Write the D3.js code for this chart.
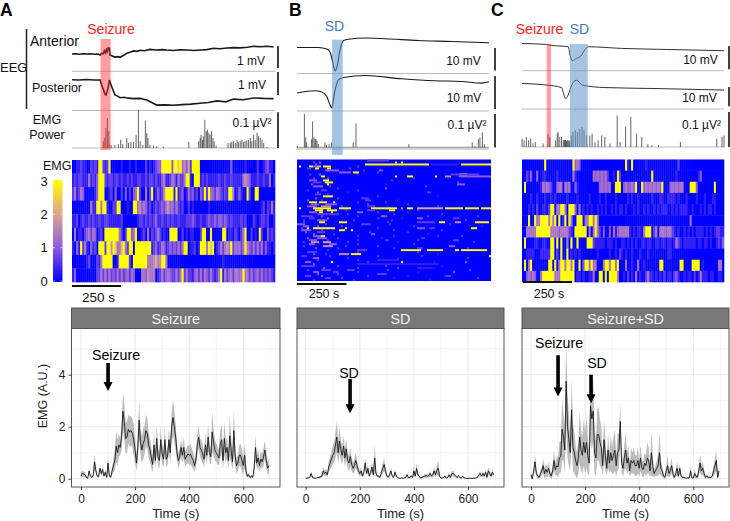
<!DOCTYPE html>
<html><head><meta charset="utf-8">
<script src="https://cdn.jsdelivr.net/npm/d3@7/dist/d3.min.js"></script>
<style>html,body{margin:0;background:#fff}svg{display:block;font-family:"Liberation Sans",Arial,sans-serif}</style>
</head><body><svg id="c" width="730" height="521"></svg>
<script>
// ---- EEG traces: time (s) and value (mV) ----
const antA_t=[0,12,25,38,51,64,77,90,97,102,108,112,116,119,122,125,129,131,137,148,157,166,178,189,200,212,224,235,250,269,290,310,327,350,372,396,420,442,465,488,510,535,557,580,605,626,650,672,695];
const antA_v=[0,.01,-.01,.01,0,.01,-.01,0,-.05,.03,.02,.15,.05,.2,.12,.28,.26,-.05,-.08,-.14,-.12,-.15,-.06,.03,.08,.14,.12,.17,.15,.21,.18,.2,.18,.16,.19,.18,.16,.18,.2,.26,.24,.27,.29,.28,.31,.35,.33,.35,.32];
const posA_t=[0,25,50,75,97,102,108,113,117,121,125,129,137,148,157,166,180,195,212,235,258,275,292,320,350,380,410,442,470,500,530,557,590,626,660,695];
const posA_v=[.01,0,.02,0,0,-.22,-.4,-.6,-.65,-.5,-.32,0,-.29,-.65,-.7,-.77,-.75,-.79,-.81,-.8,-.87,-.98,-1.09,-1.08,-1.1,-1.07,-1.05,-1.01,-.98,-.91,-.95,-.83,-.86,-.78,-.8,-.81];
const antB_t=[0,78,109,121,134,139,146,157,170,188,248,321,442,564,700];
const antB_v=[0,0,-.7,-2.2,-8.5,-10.4,-8.5,-1,3.1,3.7,4.2,3.9,3.1,2.7,2.1];
const posB_t=[0,66,90,108,120,126,139,151,170,248,382,503,600,673,700];
const posB_v=[0,.7,.3,-1,-3.5,-4.5,1,4,4.7,5.3,4.3,3.7,3.5,3,3.4];
const antC_t=[0,85,96,160,168,175,188,204,218,229,345,519,700];
const antC_v=[0,-.4,-.7,-1.4,-5.7,-7.4,-6.4,-5.4,-2.6,-1.4,-2.1,-2.6,-3.1];
const posC_t=[0,79,137,144,151,160,172,188,211,287,461,700];
const posC_v=[0,-.7,-2.1,-5.2,-7.9,-6,-.9,1.7,-.9,-2.1,-2.6,-3.4];
// ---- EMG power spikes: time (s), power (uV^2) ----
const spkA_t=[122,117,127,113,108,131,137,148,160,168,175,189,195,203,212,221,229,235,244,253,258,262,269,281,292,315,403,437,442,445,450,453,458,463,467,472,476,481,486,490,497,538,546,551,557,563,569,574,580,586,592,597,603,609,615,620,626,632,638,643,649,655,661,672];
const spkA_v=[.084,.056,.047,.028,.019,.009,.007,.009,.011,.023,.011,.028,.014,.017,.017,.037,.107,.019,.009,.077,.042,.028,.009,.007,.005,.004,.017,.019,.028,.037,.023,.033,.079,.047,.051,.042,.037,.047,.028,.019,.007,.014,.014,.017,.019,.014,.023,.017,.019,.023,.017,.019,.021,.023,.028,.019,.037,.023,.042,.033,.028,.023,.014,.003];
const spkB_t=[1,27,32,35,53,57,62,66,69,73,78,102,108,117,126,205,215,408,639,649,661,667,676,683];
const spkB_v=[.005,.1,.03,.015,.025,.078,.03,.025,.025,.02,.01,.015,.008,.01,.015,.015,.072,.01,.015,.005,.025,.03,.045,.01];
const spkC_t=[0,7,15,23,30,38,46,73,90,96,116,122,125,131,137,143,146,149,151,154,157,160,163,166,172,177,185,192,200,208,215,224,235,243,253,264,276,287,305,330,340,359,377,397,415,436,450,473,549,675,693,700];
const spkC_v=[.024,.019,.029,.019,.024,.011,.014,.01,.038,.029,.019,.038,.043,.029,.029,.019,.02,.019,.02,.017,.02,.017,.02,.014,.033,.043,.048,.043,.052,.057,.048,.033,.033,.038,.014,.019,.033,.029,.01,.09,.014,.057,.086,.038,.029,.008,.005,.005,.014,.024,.029,.033];
// ---- heat maps: one digit per bin, digit*3/9 = EMG ----
const heatA=[
"0011211002"+"1219921290"+"0000100010"+"0100002010"+"1233999993"+"9979453629"+"9990000000"+"0000000030"+"0000010000"+"0200123110",
"1212211141"+"2139992122"+"1221211212"+"1122112122"+"1211341124"+"3142249910"+"9991212111"+"1121121121"+"1111454311"+"1211211401",
"2412430000"+"0139990012"+"0300203020"+"3492004029"+"0131259999"+"1912301423"+"1203292943"+"2432121994"+"0131009200"+"9900000000",
"0000000004"+"1199499100"+"2299000100"+"9945343120"+"1212324534"+"2421200201"+"0000000100"+"0000000000"+"0000000000"+"0001202141",
"1120121121"+"2112112211"+"1111200000"+"0012212121"+"2311211212"+"1121112223"+"2112112322"+"3233232121"+"1112120002"+"1012212001",
"0401102342"+"4301209999"+"9994202993"+"4900120402"+"1242010099"+"9900201011"+"0002990090"+"0000990110"+"2102490020"+"1092003121",
"1031924103"+"1209992995"+"9744794299"+"0999999991"+"2312431232"+"3242499011"+"2019994979"+"0124245492"+"4342494324"+"2424131101",
"0000000120"+"0021499999"+"0019999920"+"9999999444"+"5645994000"+"0000000000"+"0000000000"+"0000100000"+"0000000000"+"0000000000",
"1300000000"+"0022424242"+"3242423424"+"3000443544"+"4012423432"+"2424924221"+"3424243242"+"1249142342"+"4434944242"+"3424232321"];
const heatC=[
"0000000000"+"0900000000"+"0000093430"+"0000000000"+"0000000000"+"0910900000"+"0100000000"+"0000000200"+"0000000000"+"0000000000",
"0021300300"+"1100000100"+"0000041000"+"0000043434"+"3420010920"+"0000000000"+"0000900000"+"0000001000"+"0000000130"+"0000000000",
"0900000001"+"4343200344"+"0434003100"+"0000000034"+"3434009990"+"3433439009"+"3434343439"+"0003434344"+"0009993000"+"0000090000",
"0000100100"+"0100101000"+"0010000100"+"0001000010"+"0100001000"+"0010100100"+"0000100011"+"0011110100"+"0100001000"+"1000110000",
"0001010200"+"1102990449"+"9409993040"+"1010100101"+"0100101011"+"0100010100"+"1010010101"+"1100101011"+"1100100010"+"1011010000",
"0009009449"+"9994949090"+"1909400999"+"0449949400"+"0000000000"+"0000000000"+"0000000000"+"0000000000"+"0004000000"+"0000000000",
"0044444999"+"9999444434"+"4442109999"+"9904049420"+"3003041344"+"4441010110"+"4999024044"+"4344210100"+"1010101111"+"0101012211",
"0900001100"+"1100990909"+"0040900900"+"0099921111"+"1011101001"+"1010101001"+"1011001101"+"1011014210"+"1111110110"+"1101001213",
"0011110001"+"1111990209"+"0090101010"+"0000000100"+"0001001021"+"0100100010"+"0010000000"+"0011000000"+"0000000000"+"0000000000",
"0904900000"+"0009909049"+"9499490090"+"3994944000"+"4994994900"+"0400100400"+"1000000099"+"0000000099"+"0000999901"+"0000000440",
"0034343004"+"9999994449"+"9999990110"+"1001140099"+"0909999400"+"1020104010"+"0241101010"+"2011023100"+"1011020141"+"1101100110"];
// ---- panel B heat map, sparse: row, first bin, last bin, digit ----
const heatBcells=[[0,35,45,2],[1,49,49,9],[1,52,52,9],[2,34,45,9],[2,46,65,9],[2,67,80,1],[2,82,96,9],[3,1,1,9],[3,6,7,9],[3,10,11,6],[3,13,16,9],[3,8,9,3],[4,9,10,9],[4,15,16,9],[4,5,6,2],[5,14,20,3],[5,41,42,3],[6,28,30,9],[6,21,26,3],[7,81,84,9],[7,77,90,2],[8,12,13,9],[8,49,49,9],[8,55,57,9],[8,69,69,9],[8,74,76,5],[8,81,96,3],[10,13,15,9],[10,6,9,3],[11,14,17,9],[11,8,11,2],[12,15,15,9],[12,80,83,3],[13,8,12,3],[14,44,44,3],[15,12,14,2],[16,65,66,2],[17,9,11,2],[18,13,17,9],[19,32,35,2],[20,34,36,2],[21,6,9,9],[21,11,14,9],[21,18,18,9],[22,14,19,3],[22,7,10,3],[23,5,9,3],[23,12,16,5],[23,35,38,2],[24,1,1,9],[24,8,16,9],[24,21,26,9],[24,37,49,9],[24,52,52,5],[24,55,57,9],[24,60,72,6],[24,74,82,9],[24,84,90,9],[24,92,96,9],[25,9,12,9],[25,15,19,9],[25,46,48,9],[25,35,38,2],[26,11,12,9],[26,17,17,9],[26,6,9,3],[26,30,32,3],[27,10,20,2],[28,2,7,2],[28,42,44,3],[29,6,8,2],[29,60,62,3],[29,78,80,2],[30,10,14,3],[31,11,13,9],[31,21,24,9],[31,71,73,9],[31,79,81,5],[31,89,95,9],[31,60,68,2],[32,0,3,3],[32,32,36,2],[33,3,5,3],[34,5,5,9],[34,8,18,9],[34,24,24,9],[34,87,89,9],[34,60,63,3],[34,66,68,2],[35,21,23,9],[35,27,27,9],[35,2,6,3],[36,10,13,2],[37,37,38,3],[38,12,13,9],[38,8,11,3],[39,10,14,3],[39,62,63,2],[40,6,9,3],[40,44,45,2],[40,78,80,2],[41,7,10,5],[41,13,16,6],[42,6,8,3],[42,16,19,3],[43,13,17,5],[43,76,78,3],[44,60,62,2],[45,52,61,9],[45,65,72,9],[45,79,80,9],[45,82,84,9],[45,85,94,9],[45,30,34,2],[46,5,9,2],[47,21,25,5],[47,27,31,9],[48,2,4,2],[48,96,96,9],[49,8,10,3],[50,40,50,1],[51,52,52,9],[51,17,17,9],[51,4,6,3],[52,30,70,1],[53,2,8,2],[54,60,68,1],[55,12,16,2],[55,25,28,2],[56,8,10,3],[56,18,20,2],[57,40,44,2],[58,4,6,2],[58,74,76,2],[59,14,16,2]];
// ---- panel B faint single bins: row, bin, digit ----
const heatBfaint=[[1,8,2],[1,11,3],[2,9,3],[3,30,2],[4,26,2],[5,33,2],[6,40,2],[7,6,2],[7,11,3],[7,30,1],[9,8,2],[9,15,3],[9,58,2],[10,47,2],[11,80,2],[12,7,3],[12,44,1],[13,16,2],[13,64,2],[14,20,2],[15,5,2],[15,30,2],[16,10,3],[16,25,1],[17,15,2],[18,40,2],[18,70,1],[19,9,3],[19,20,2],[20,5,3],[20,12,2],[20,50,1],[21,30,2],[21,44,2],[22,35,2],[22,55,2],[23,22,2],[23,45,1],[23,70,2],[25,24,2],[25,60,2],[26,40,2],[26,55,1],[27,25,2],[27,48,2],[27,72,2],[28,12,3],[28,30,2],[28,65,2],[28,90,2],[29,15,3],[29,40,2],[29,52,1],[30,3,2],[30,28,2],[30,47,2],[30,84,2],[31,3,2],[31,45,2],[32,14,2],[32,46,2],[32,76,2],[33,10,3],[33,22,2],[33,58,2],[33,92,1],[34,2,2],[34,40,2],[35,12,2],[35,48,2],[35,72,2],[36,4,3],[36,36,2],[36,55,2],[37,8,3],[37,18,2],[37,65,1],[38,30,2],[38,48,2],[38,70,2],[38,82,2],[39,5,3],[39,20,2],[39,42,1],[40,15,2],[40,30,2],[40,60,2],[41,3,2],[41,25,2],[41,50,1],[41,88,2],[42,30,2],[42,58,2],[43,3,2],[43,24,2],[43,40,2],[44,9,3],[44,20,2],[44,48,2],[44,85,2],[45,15,2],[46,30,2],[46,60,2],[47,8,3],[47,14,2],[47,70,1],[48,16,2],[48,40,2],[48,62,2],[49,25,2],[49,50,1],[49,85,2],[50,10,2],[50,30,2],[51,35,2],[51,68,1],[51,84,3],[52,8,3],[53,20,2],[53,44,2],[53,72,1],[54,13,3],[54,30,2],[54,50,2],[55,5,2],[55,45,2],[55,86,2],[56,30,2],[56,60,1],[56,78,3],[57,10,3],[57,20,2],[58,12,3],[58,35,2],[58,55,1],[59,22,2],[59,48,1],[59,90,2],[60,8,2],[60,28,2],[60,66,1]];
const heatBrows=61, heatBbins=97;
// ---- mean EMG and half width of the band, one value each 5 s ----
const meanA=[.10,.20,.18,.15,.05,.02,.30,.10,.05,.12,.65,.30,.10,.08,.40,.20,.35,.10,.25,.05,.60,.10,.06,.30,.50,.70,1.25,1.0,1.3,1.2,1.6,2.6,2.2,1.55,1.6,1.9,1.8,1.85,1.75,1.5,1.1,.6,1.2,2.25,1.4,1.1,1.35,1.5,1.85,1.75,1.3,1.1,.8,.55,1.3,.7,1.55,.8,.7,1.5,.95,.75,1.5,.75,.85,1.5,1.0,2.0,2.35,2.0,1.6,1.0,.7,.85,1.2,.9,1.2,.75,.85,.95,.9,.95,.8,.7,.5,.75,1.3,1.6,1.2,1.1,.95,.75,1.3,.9,1.6,1.0,.85,1.8,1.4,1.1,1.0,.9,.8,1.35,1.5,.7,1.55,1.0,1.2,.7,1.65,1.1,.65,1.85,.85,.5,.6,.9,.9,.7,.5,.9,.3,.1,.15,.05,.1,.05,.4,1.2,.6,.8,.5,.75,.65,.85,1.1,.7,.4,.5];
const bandA=[.12,.12,.1,.1,.05,.02,.1,.05,.04,.08,.3,.12,.05,.04,.12,.1,.12,.05,.1,.04,.3,.05,.05,.15,.25,.4,.6,.5,.45,.3,.5,.7,.7,.6,.6,.55,.6,.55,.55,.6,.5,.3,.55,.7,.5,.5,.6,.55,.6,.6,.5,.45,.4,.3,.5,.3,.5,.35,.3,.5,.4,.3,.5,.3,.3,.45,.4,.55,.7,.6,.5,.35,.3,.3,.35,.3,.4,.3,.3,.35,.35,.4,.35,.3,.25,.3,.4,.45,.35,.4,.35,.3,.45,.35,.5,.35,.3,.8,.5,.4,.35,.35,.3,.5,.6,.3,.65,.4,.4,.3,.8,.5,.3,.85,.4,.3,.3,.4,.45,.4,.35,.5,.2,.06,.08,.05,.06,.05,.2,.5,.25,.35,.25,.3,.3,.35,.35,.3,.25,.3];
const meanB=[.02,.02,.03,.05,.2,.05,.03,.02,.03,.04,.05,.08,.1,.3,.2,.25,.15,.45,.6,.75,.9,1.0,1.3,1.6,1.0,1.45,1.1,.9,1.25,.8,1.15,.7,.6,.85,.55,.4,.5,.7,.5,.3,.2,.3,.1,.25,.6,.2,.4,.1,.25,.45,.15,.8,.2,.1,.1,.05,.25,.4,.55,.3,.1,.05,.15,.3,.1,.05,.25,.1,.05,.02,.02,.03,.02,.03,.05,.15,.03,.05,.1,.05,.3,.1,.4,.15,.1,.02,.05,.08,.1,.12,.1,.12,.2,.1,.15,.3,.15,.35,.4,.1,.02,.03,.05,.1,.02,.05,.15,.05,.2,.2,.15,.1,.05,.1,.05,.02,.1,.03,.02,.01,.01,.02,.02,.01,.02,.02,.03,.05,.15,.2,.1,.2,.1,.25,.05,.3,.2,.1,.25,.15];
const bandB=[.01,.01,.02,.03,.08,.03,.02,.01,.02,.02,.03,.05,.06,.15,.12,.12,.1,.2,.25,.3,.35,.4,.5,.6,.45,.5,.4,.35,.4,.35,.4,.3,.3,.35,.25,.2,.25,.3,.2,.15,.1,.15,.05,.12,.2,.1,.15,.05,.1,.2,.1,.55,.1,.05,.05,.03,.1,.2,.25,.15,.05,.03,.08,.12,.05,.03,.1,.05,.03,.01,.01,.02,.01,.02,.03,.08,.02,.03,.05,.03,.2,.05,.2,.08,.05,.01,.03,.05,.06,.08,.06,.07,.1,.06,.1,.15,.1,.2,.3,.05,.01,.02,.03,.05,.01,.03,.08,.03,.1,.12,.08,.05,.03,.05,.03,.01,.05,.02,.01,.01,.01,.01,.01,.01,.01,.01,.02,.03,.08,.1,.06,.1,.06,.1,.03,.15,.1,.06,.12,.08];
const meanC=[.15,.0,.3,.65,.2,.1,.05,.2,.3,.5,.2,.35,.25,.4,.2,.1,.3,.7,.35,.5,.45,.8,.85,1.9,1.6,1.1,3.75,2.0,1.5,1.0,2.65,1.2,1.0,.7,.5,.8,1.6,1.1,.9,1.4,1.0,1.4,.9,.6,2.8,2.3,2.6,1.0,.8,1.7,1.7,1.4,1.2,.5,1.5,.9,.4,1.1,.6,1.0,.7,.9,1.1,.5,1.0,1.1,2.2,.6,.4,.8,1.1,.6,.8,.3,.7,.6,.7,.5,.5,.7,.4,.8,.4,.35,.6,.5,.8,.7,.3,1.0,.5,.2,.3,.4,.5,1.0,.4,.3,.1,.05,.3,.5,.2,.3,.5,.2,.05,.2,.4,.1,.4,.1,.05,.05,.03,.02,.03,.02,.3,.03,.02,.2,.1,.05,.3,.6,.3,.4,.2,.05,.1,.05,.05,.05,.1,.3,.5,.7,.05,.3];
const bandC=[.15,.05,.15,.3,.15,.1,.05,.15,.15,.3,.2,.25,.2,.25,.15,.1,.2,.4,.25,.35,.4,.6,.6,1.2,.9,.9,1.55,1.2,1.0,.7,1.2,.9,.8,.6,.5,.6,1.0,.8,.7,.9,.8,1.0,.7,.5,1.3,1.2,1.2,.8,.7,1.0,1.0,.9,.8,.4,.8,.6,.3,.7,.4,.7,.5,.7,.8,.4,.7,.7,.7,.4,.3,.5,.7,.4,.5,.2,.5,.4,.5,.4,.4,.5,.3,.5,.3,.3,.4,.4,.6,.5,.2,.9,.4,.15,.2,.3,.4,.8,.3,.2,.1,.05,.2,.4,.15,.2,.3,.15,.05,.1,.3,.08,.2,.08,.04,.04,.02,.02,.02,.02,.2,.02,.02,.15,.08,.04,.2,.35,.2,.25,.15,.04,.08,.04,.04,.04,.08,.2,.3,.4,.04,.2];
const binSeconds=5;
const colorDomain=[0,1,2,3], colorStops=["#0000ff","#8f5ae0","#dca58c","#ffff00"];
const timeTicks=[0,200,400,600], emgTicks=[0,2,4];

const svg=d3.select("#c");
const color=d3.scaleLinear().domain(colorDomain).range(colorStops).clamp(true);
const txt=(x,y,s,o={})=>svg.append("text").attr("x",x).attr("y",y).attr("text-anchor",o.a||"middle").attr("dominant-baseline","central")
  .attr("font-size",o.fs||12).attr("font-weight",o.w||null).attr("fill",o.c||"#111").text(s);

// panel letters
txt(0,9.5,"A",{a:"start",fs:17.5,w:"bold",c:"#000"});
txt(289,9.5,"B",{a:"start",fs:17.5,w:"bold",c:"#000"});
txt(491,9.5,"C",{a:"start",fs:17.5,w:"bold",c:"#000"});

// ---- EEG/EMG strip blocks ----
const blocks=[
 {x0:72,x1:275,sep:[71.3,110.5],base:148,barX:278,curve:d3.curveLinear,
  traces:[{t:antA_t,v:antA_v,y0:54,k:22,lw:1.6,bar:[46,1],lab:"1 mV",lx:251,ly:61},{t:posA_t,v:posA_v,y0:80,k:23,lw:1.6,bar:[72,1],lab:"1 mV",lx:252,ly:85}],
  spk:[spkA_t,spkA_v],emgK:357,emgLab:[252,123],
  hl:[{x0:100.5,x1:110.7,y0:39,y1:150,c:"#ff2a2a",o:.45,lab:"Seizure",lc:"#ff1a1a",lx:111,ly:29,fs:14}]},
 {x0:297,x1:489,sep:[73.5,111],base:147.5,barX:495,gray:true,curve:d3.curveMonotoneX,
  traces:[{t:antB_t,v:antB_v,y0:47.5,k:2.25,lw:1.1,bar:[48,10],lab:"10 mV",lx:463.5,ly:61},{t:posB_t,v:posB_v,y0:93,k:3.3,lw:1.1,bar:[76,10],lab:"10 mV",lx:464,ly:98}],
  spk:[spkB_t,spkB_v],emgK:335,emgLab:[467,125],
  hl:[{x0:332,x1:342.7,y0:39.7,y1:155,c:"#5b93cb",o:.55,lab:"SD",lc:"#3a7cc0",lx:334.5,ly:26,fs:14}]},
 {x0:522,x1:724,sep:[70.7,109],base:147,barX:729,curve:d3.curveMonotoneX,
  traces:[{t:antC_t,v:antC_v,y0:43.5,k:2.33,lw:.9,bar:[46,10],lab:"10 mV",lx:700.5,ly:60},{t:posC_t,v:posC_v,y0:83.5,k:1.93,lw:.9,bar:[87,10],lab:"10 mV",lx:699.5,ly:98}],
  spk:[spkC_t,spkC_v],emgK:350,emgLab:[701.5,125],
  hl:[{x0:546.7,x1:551,y0:44,y1:147,c:"#ff2a2a",o:.45,lab:"Seizure",lc:"#ff1a1a",lx:539.5,ly:29,fs:14},
      {x0:570,x1:587.7,y0:44,y1:147,c:"#5b93cb",o:.55,lab:"SD",lc:"#3a7cc0",lx:579.5,ly:29,fs:14}]}
];
blocks.forEach(b=>{
  const x=d3.scaleLinear().domain([0,700]).range([b.x0,b.x1]);
  b.sep.forEach(y=>svg.append("line").attr("x1",b.x0).attr("x2",b.x1).attr("y1",y).attr("y2",y).attr("stroke","#a8a8a8").attr("stroke-width",.8));
  if(b.gray) svg.append("rect").attr("x",b.x0-1).attr("width",b.x1-b.x0+1).attr("y",b.base-1).attr("height",3.5).attr("fill","#d4d4d4");
  b.traces.forEach(tr=>{
    const y=d3.scaleLinear().domain([0,1]).range([tr.y0,tr.y0-tr.k]);
    svg.append("path").attr("d",d3.line().x(i=>x(tr.t[i])).y(i=>y(tr.v[i])).curve(b.curve)(d3.range(tr.t.length)))
      .attr("fill","none").attr("stroke","#1a1a1a").attr("stroke-width",tr.lw);
    svg.append("line").attr("x1",b.barX).attr("x2",b.barX).attr("y1",tr.bar[0]).attr("y2",tr.bar[0]+Math.abs(y(tr.bar[1])-y(0))).attr("stroke","#111").attr("stroke-width",1.6);
    txt(tr.lx,tr.ly,tr.lab,{fs:12});
  });
  const ye=d3.scaleLinear().domain([0,.1]).range([b.base,b.base-b.emgK*.1]);
  svg.append("line").attr("x1",b.x0).attr("x2",b.x1).attr("y1",b.base).attr("y2",b.base).attr("stroke","#777").attr("stroke-width",.5);
  svg.append("g").selectAll("line").data(b.spk[0]).join("line").attr("x1",d=>x(d)).attr("x2",d=>x(d))
    .attr("y1",b.base).attr("y2",(d,i)=>ye(b.spk[1][i])).attr("stroke","#222").attr("stroke-width",.7);
  svg.append("line").attr("x1",b.barX).attr("x2",b.barX).attr("y1",ye(.1)).attr("y2",ye(0)).attr("stroke","#111").attr("stroke-width",1.6);
  txt(b.emgLab[0],b.emgLab[1],"0.1 µV²",{fs:12});
  b.hl.forEach(h=>{
    svg.append("rect").attr("x",h.x0).attr("width",h.x1-h.x0).attr("y",h.y0).attr("height",h.y1-h.y0).attr("fill",h.c).attr("opacity",h.o);
    txt(h.lx,h.ly,h.lab,{fs:h.fs,c:h.lc});
  });
});
txt(30,41,"Anterior",{a:"start",fs:14});
txt(32,88,"Posterior",{a:"start",fs:12.5});
txt(0,67,"EEG",{a:"start",fs:13});
svg.append("line").attr("x1",26.5).attr("x2",26.5).attr("y1",29).attr("y2",109).attr("stroke","#222").attr("stroke-width",1.5);
txt(47,120,"EMG",{fs:12.5});txt(47,135,"Power",{fs:12.5});

// ---- heat maps ----
function heatRows(rows,x0,x1,y0,y1){
  const yb=d3.scaleBand().domain(d3.range(rows.length)).range([y0,y1]);
  rows.forEach((s,r)=>{
    const xb=d3.scaleBand().domain(d3.range(s.length)).range([x0,x1]);
    svg.append("g").selectAll("rect").data(Array.from(s)).join("rect")
      .attr("x",(d,i)=>xb(i)).attr("width",xb.bandwidth()+.3).attr("y",yb(r)).attr("height",yb.bandwidth()+.3)
      .attr("fill",d=>color(+d*3/9));
  });
}
heatRows(heatA,72,275,160,282);
heatRows(heatC,522,724,159.5,282);
const hbx=d3.scaleBand().domain(d3.range(heatBbins)).range([297,491]);
const hby=d3.scaleBand().domain(d3.range(heatBrows)).range([159.5,281]);
svg.append("rect").attr("x",297).attr("y",159.5).attr("width",194).attr("height",121.5).attr("fill",color(0));
svg.append("g").selectAll("rect").data(heatBfaint).join("rect")
  .attr("x",d=>hbx(d[1])).attr("width",hbx.bandwidth())
  .attr("y",d=>hby(d[0])).attr("height",hby.bandwidth()).attr("fill",d=>color(d[2]*3/9));
svg.append("g").selectAll("rect").data(heatBcells).join("rect")
  .attr("x",d=>hbx(d[1])).attr("width",d=>hbx(d[2])+hbx.bandwidth()-hbx(d[1]))
  .attr("y",d=>hby(d[0])).attr("height",hby.bandwidth()).attr("fill",d=>color(d[3]*3/9));
[[72,121,286,"250 s",98.5,297,13.5],[297,346.5,284,"250 s",324,294,12.5],[523,572,282,"250 s",549,294,12.5]].forEach(s=>{
  svg.append("line").attr("x1",s[0]).attr("x2",s[1]).attr("y1",s[2]).attr("y2",s[2]).attr("stroke","#111").attr("stroke-width",2.2);
  txt(s[4],s[5],s[3],{fs:s[6]});
});
// colour bar
const cbY=d3.scaleLinear().domain([0,3]).range([281,181]);
const defs=svg.append("defs").append("linearGradient").attr("id","cb").attr("x1",0).attr("x2",0).attr("y1",1).attr("y2",0);
colorDomain.forEach((v,i)=>defs.append("stop").attr("offset",v/3).attr("stop-color",colorStops[i]));
svg.append("rect").attr("x",53).attr("width",9.5).attr("y",cbY(3)-1).attr("height",cbY(0)-cbY(3)+2).attr("fill","url(#cb)");
colorDomain.forEach(v=>{
  txt(44,cbY(v),String(v),{fs:13});
  [53,60.5].forEach(xx=>svg.append("line").attr("x1",xx).attr("x2",xx+2).attr("y1",cbY(v)).attr("y2",cbY(v)).attr("stroke","#fff").attr("stroke-width",.6));
});
txt(43,166,"EMG",{a:"start",fs:12.5});

// ---- facet line plots ----
const facets=[
 {title:"Seizure",x0:71.5,x1:280,xz:81,mean:meanA,band:bandA,yAxis:true,
  notes:[{lab:"Seizure",lx:116,ly:355,t:100,top:4.45,tip:3.37}]},
 {title:"SD",x0:297,x1:504,xz:305.7,mean:meanB,band:bandB,
  notes:[{lab:"SD",lx:349,ly:373,t:164,top:3.83,tip:2.52}]},
 {title:"Seizure+SD",x0:522,x1:729,xz:531,mean:meanC,band:bandC,
  notes:[{lab:"Seizure",lx:559,ly:343,t:100,top:4.75,tip:3.16},{lab:"SD",lx:597,ly:363,t:222,top:4.0,tip:2.9}]}
];
const py0=328.5,py1=487,stripTop=308;
const y=d3.scaleLinear().domain([0,4]).range([478.7,374.7]);
facets.forEach(f=>{
  const x=d3.scaleLinear().domain([0,600]).range([f.xz,f.xz+162.3]);
  const w=f.x1-f.x0;
  svg.append("rect").attr("x",f.x0).attr("y",py0).attr("width",w).attr("height",py1-py0).attr("fill","#fff");
  [100,300,500,700].forEach(t=>svg.append("line").attr("x1",x(t)).attr("x2",x(t)).attr("y1",py0).attr("y2",py1).attr("stroke","#f0f0f0").attr("stroke-width",.6));
  [1,3,5].forEach(v=>svg.append("line").attr("x1",f.x0).attr("x2",f.x1).attr("y1",y(v)).attr("y2",y(v)).attr("stroke","#f0f0f0").attr("stroke-width",.6));
  timeTicks.forEach(t=>svg.append("line").attr("x1",x(t)).attr("x2",x(t)).attr("y1",py0).attr("y2",py1).attr("stroke","#e8e8e8").attr("stroke-width",1));
  emgTicks.forEach(v=>svg.append("line").attr("x1",f.x0).attr("x2",f.x1).attr("y1",y(v)).attr("y2",y(v)).attr("stroke","#e8e8e8").attr("stroke-width",1));
  const idx=d3.range(f.mean.length);
  svg.append("path").attr("d",d3.area().x(i=>x(i*binSeconds)).y0(i=>y(Math.max(0,f.mean[i]-f.band[i]))).y1(i=>y(f.mean[i]+f.band[i]))(idx)).attr("fill","#bcbcbc");
  svg.append("path").attr("d",d3.line().x(i=>x(i*binSeconds)).y(i=>y(f.mean[i]))(idx)).attr("fill","none").attr("stroke","#1a1a1a").attr("stroke-width",.9);
  svg.append("rect").attr("x",f.x0).attr("y",py0).attr("width",w).attr("height",py1-py0).attr("fill","none").attr("stroke","#555").attr("stroke-width",1);
  svg.append("rect").attr("x",f.x0).attr("y",stripTop).attr("width",w).attr("height",py0-stripTop).attr("fill","#787878").attr("stroke","#555").attr("stroke-width",1);
  txt((f.x0+f.x1)/2,318.5,f.title,{fs:14.3,c:"#f2f2f2"});
  const ax=svg.append("g").attr("transform",`translate(0,${py1})`).call(d3.axisBottom(x).tickValues(timeTicks).tickSize(3).tickSizeOuter(0));
  ax.select(".domain").remove();
  ax.selectAll("line").attr("stroke","#444");
  ax.selectAll("text").attr("font-size",12).attr("font-family",'"Liberation Sans",Arial,sans-serif').attr("fill","#222").attr("dy",".85em");
  txt((f.x0+f.x1)/2,513.5,"Time (s)",{fs:13,c:"#222"});
  if(f.yAxis){
    const ay=svg.append("g").attr("transform",`translate(${f.x0},0)`).call(d3.axisLeft(y).tickValues(emgTicks).tickFormat(d3.format("d")).tickSize(3).tickSizeOuter(0));
    ay.select(".domain").remove();
    ay.selectAll("line").attr("stroke","#444");
    ay.selectAll("text").attr("font-size",12).attr("font-family",'"Liberation Sans",Arial,sans-serif').attr("fill","#222");
    svg.append("text").attr("transform","translate(43,396) rotate(-90)").attr("text-anchor","middle").attr("dominant-baseline","central").attr("font-size",12.5).attr("fill","#222").text("EMG (A.U.)");
  }
  f.notes.forEach(n=>{
    txt(n.lx,n.ly,n.lab,{fs:14.2,c:"#000"});
    const ax0=x(n.t),yTop=y(n.top),yTip=y(n.tip);
    svg.append("path").attr("d",d3.line()([[ax0-1.8,yTop],[ax0+1.8,yTop],[ax0+1.8,yTip-9],[ax0+4.5,yTip-9],[ax0,yTip],[ax0-4.5,yTip-9],[ax0-1.8,yTip-9]])+"Z").attr("fill","#000");
  });
});
</script></body></html>
